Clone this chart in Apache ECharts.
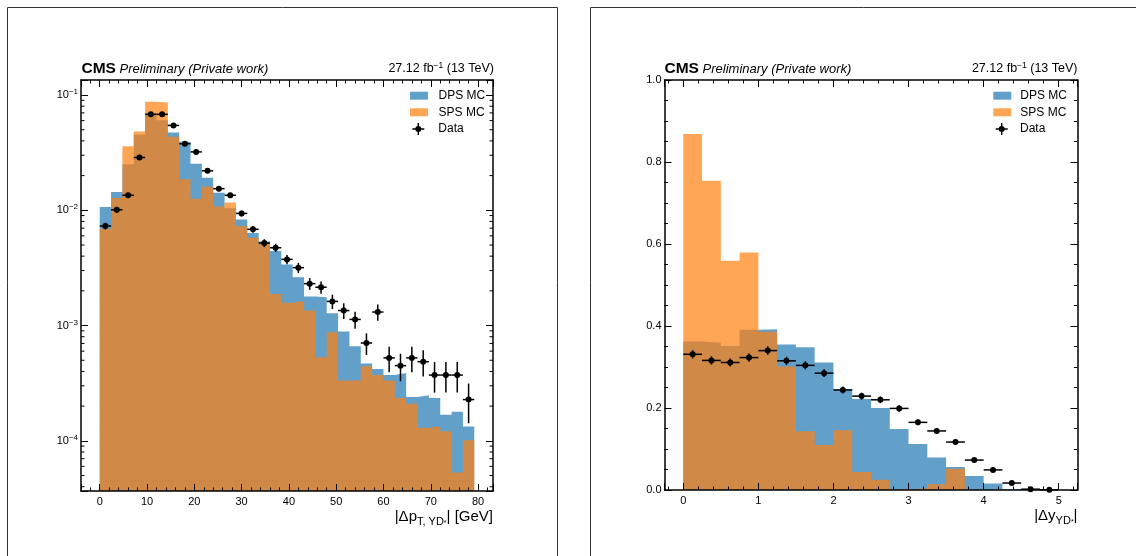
<!DOCTYPE html>
<html>
<head>
<meta charset="utf-8">
<script src="https://cdn.jsdelivr.net/npm/echarts@6/dist/echarts.min.js"></script>
<style>
  html, body { margin: 0; padding: 0; background: #fff; }
  #chart { width: 1136px; height: 556px; }
</style>
</head>
<body>
<div id="chart"></div>
<script>
// |Δp_T| distribution: 33 bins of 2.4 GeV, normalised densities
const ptEdges = [0, 2.4, 4.8, 7.2, 9.6, 12, 14.4, 16.8, 19.2, 21.6, 24, 26.4, 28.8, 31.2, 33.6, 36, 38.4,
  40.8, 43.2, 45.6, 48, 50.4, 52.8, 55.2, 57.6, 60, 62.4, 64.8, 67.2, 69.6, 72, 74.4, 76.8, 79.2];
const ptDPS = [1.07e-2, 1.44e-2, 2.51e-2, 4.52e-2, 6.9e-2, 6.05e-2, 4.73e-2, 3.93e-2, 2.54e-2, 1.92e-2,
  1.42e-2, 1.04e-2, 8.3e-3, 6.35e-3, 5.37e-3, 4.43e-3, 3.39e-3, 2.63e-3, 1.79e-3, 1.76e-3,
  1.28e-3, 8.9e-4, 6.6e-4, 4.68e-4, 4.2e-4, 3.72e-4, 3.87e-4, 2.4e-4, 2.49e-4, 2.35e-4,
  1.68e-4, 1.79e-4, 1.33e-4];
const ptSPS = [6.9e-3, 1.28e-2, 3.6e-2, 4.83e-2, 8.74e-2, 8.63e-2, 4.35e-2, 1.86e-2, 1.26e-2, 1.6e-2,
  1.08e-2, 1.17e-2, 7.3e-3, 5.78e-3, 5.13e-3, 1.88e-3, 1.58e-3, 1.63e-3, 1.35e-3, 5.3e-4,
  8.75e-4, 3.33e-4, 3.33e-4, 4.43e-4, 3.72e-4, 3.33e-4, 2.35e-4, 2.1e-4, 1.3e-4, 1.34e-4,
  1.21e-4, 5.3e-5, 1.01e-4];
const ptData = [7.3e-3, 1.01e-2, 1.35e-2, 2.87e-2, 6.8e-2, 6.8e-2, 5.45e-2, 3.78e-2, 3.21e-2, 2.2e-2,
  1.54e-2, 1.35e-2, 9.4e-3, 6.84e-3, 5.2e-3, 4.73e-3, 3.75e-3, 3.18e-3, 2.31e-3, 2.15e-3,
  1.62e-3, 1.35e-3, 1.13e-3, 7.06e-4, 1.31e-3, 5.24e-4, 4.49e-4, 5.24e-4, 4.86e-4, 3.72e-4,
  3.72e-4, 3.72e-4, 2.28e-4];
const ptDataErr = [4.9e-4, 5.7e-4, 6.6e-4, 9.7e-4, 1.5e-3, 1.5e-3, 1.3e-3, 1.1e-3, 1.0e-3, 8.5e-4,
  7.1e-4, 6.6e-4, 5.5e-4, 4.7e-4, 4.1e-4, 3.9e-4, 3.5e-4, 3.2e-4, 2.7e-4, 2.6e-4,
  2.3e-4, 2.1e-4, 1.9e-4, 1.5e-4, 2.1e-4, 1.3e-4, 1.2e-4, 1.3e-4, 1.25e-4, 1.1e-4,
  1.1e-4, 1.1e-4, 8.6e-5];

// |Δy| distribution: 20 bins of 0.25
const dyEdges = [0, 0.25, 0.5, 0.75, 1, 1.25, 1.5, 1.75, 2, 2.25, 2.5, 2.75, 3, 3.25, 3.5, 3.75, 4, 4.25, 4.5, 4.75, 5];
const dyDPS = [0.362, 0.359, 0.351, 0.391, 0.392, 0.355, 0.348, 0.311, 0.246, 0.222,
  0.200, 0.149, 0.112, 0.079, 0.056, 0.034, 0.016, 0.002, 0, 0];
const dySPS = [0.868, 0.754, 0.559, 0.579, 0.386, 0.301, 0.143, 0.110, 0.146, 0.044,
  0.025, 0.001, 0.004, 0.014, 0.052, 0, 0, 0, 0, 0];
const dyData = [0.331, 0.316, 0.311, 0.323, 0.340, 0.315, 0.304, 0.285, 0.244, 0.229,
  0.220, 0.199, 0.165, 0.144, 0.117, 0.073, 0.049, 0.017, 0.002, 0.0006];
const dyDataErr = [0.010, 0.010, 0.010, 0.010, 0.010, 0.010, 0.0098, 0.0095, 0.0087, 0.0085,
  0.0083, 0.0079, 0.0072, 0.0067, 0.006, 0.0048, 0.0039, 0.0023, 0.0008, 0.0004];

// axis ranges
const ptXRange = [-3.96, 83.16];
const ptYRange = [3.67e-5, 0.135];
const dyXRange = [-0.25, 5.25];
const dyYRange = [0, 1.0];
const logMantissas = [2, 3, 4, 5, 6, 7, 8, 9];
const logDecades = [-5, -4, -3, -2, -1];

// header texts
const cmsLabel = 'CMS';
const cmsExtra = 'Preliminary (Private work)';
const lumiMain = '27.12 fb';
const lumiSup = '\u22121';
const lumiTail = ' (13 TeV)';
const seriesNames = ['DPS MC', 'SPS MC', 'Data'];

const DPS_COLOR = 'rgba(31,119,180,0.7)';
const SPS_COLOR = 'rgba(255,127,14,0.7)';
const FONT = '"Liberation Sans", Arial, Helvetica, sans-serif';

function stepPoints(edges, vals) {
  const pts = vals.map((v, i) => [edges[i], v]);
  pts.push([edges[edges.length - 1], vals[vals.length - 1]]);
  return pts;
}

function histSeries(name, color, edges, vals, xi, yi) {
  return {
    type: 'line', name, xAxisIndex: xi, yAxisIndex: yi,
    data: stepPoints(edges, vals), step: 'end',
    symbol: 'none', showSymbol: false, silent: true,
    color, itemStyle: { color },
    lineStyle: { width: 0, opacity: 0 },
    areaStyle: { color, opacity: 1, origin: 'start' },
    z: 2
  };
}

function errorbarItem(params, api) {
  const lo = api.value(0), hi = api.value(1), v = api.value(2), e = api.value(3);
  const xc = (lo + hi) / 2;
  const pl = api.coord([lo, v]), pr = api.coord([hi, v]);
  const pt = api.coord([xc, v + e]), pb = api.coord([xc, v - e]);
  const pc = api.coord([xc, v]);
  const ls = { stroke: '#000', lineWidth: 1.5 };
  return {
    type: 'group',
    children: [
      { type: 'line', shape: { x1: pl[0], y1: pl[1], x2: pr[0], y2: pr[1] }, style: ls },
      { type: 'line', shape: { x1: pt[0], y1: pt[1], x2: pb[0], y2: pb[1] }, style: ls },
      { type: 'circle', shape: { cx: pc[0], cy: pc[1], r: 3 }, style: { fill: '#000' } }
    ]
  };
}

function dataSeries(edges, vals, errs, xi, yi) {
  return {
    type: 'custom', name: 'Data', xAxisIndex: xi, yAxisIndex: yi,
    data: vals.map((v, i) => [edges[i], edges[i + 1], v, errs[i]]),
    encode: { x: [0, 1], y: 2 },
    renderItem: errorbarItem,
    itemStyle: { color: '#000' },
    silent: true, z: 5
  };
}

// minor ticks of the logarithmic axis (2..9 x 10^n), on both vertical edges
const logMinor = [];
logDecades.forEach(d => logMantissas.forEach(m => {
  const v = m * Math.pow(10, d);
  if (v > ptYRange[0] && v < ptYRange[1]) logMinor.push([ptXRange[0], v]);
}));
const logMinorSeries = {
  type: 'custom', xAxisIndex: 0, yAxisIndex: 0, silent: true, z: 20,
  data: logMinor, encode: { x: 0, y: 1 },
  renderItem(params, api) {
    const v = api.value(1);
    const a = api.coord([ptXRange[0], v]);
    const b = api.coord([ptXRange[1], v]);
    const st = { stroke: '#000', lineWidth: 1 };
    return {
      type: 'group', children: [
        { type: 'line', shape: { x1: a[0], y1: a[1], x2: a[0] + 3.5, y2: a[1] }, style: st },
        { type: 'line', shape: { x1: b[0], y1: b[1], x2: b[0] - 3.5, y2: b[1] }, style: st }
      ]
    };
  }
};

const axisLine = { show: true, onZero: false, lineStyle: { color: '#000', width: 1.5 } };
const majorTick = { show: true, inside: true, length: 7, lineStyle: { color: '#000', width: 1 } };
const minorTick = n => ({ show: true, splitNumber: n, length: 3.5, lineStyle: { color: '#000', width: 1 } });
const noSplit = { show: false };

function xAxes(gridIndex, range, splitNumber, minorN, title) {
  const base = {
    type: 'value', gridIndex, min: range[0], max: range[1], splitNumber,
    axisLine, axisTick: majorTick, minorTick: minorTick(minorN),
    splitLine: noSplit, z: 10
  };
  return [
    Object.assign({}, base, {
      position: 'bottom',
      axisLabel: { show: true, margin: 5, fontSize: 11, color: '#000', fontFamily: FONT,
        showMinLabel: false, showMaxLabel: false },
      name: title, nameLocation: 'end', nameGap: 0,
      nameTextStyle: {
        align: 'right', verticalAlign: 'top', padding: [16, 0, 0, 0], color: '#000', fontFamily: FONT,
        rich: {
          n: { fontSize: 15, lineHeight: 20, color: '#000', fontFamily: FONT },
          sb: { fontSize: 11, lineHeight: 12, verticalAlign: 'bottom', color: '#000', fontFamily: FONT },
          sp: { fontSize: 7, lineHeight: 16, verticalAlign: 'bottom', color: '#000', fontFamily: FONT }
        }
      }
    }),
    Object.assign({}, base, { position: 'top', axisLabel: { show: false } })
  ];
}

const logLabel = v => {
  const e = Math.log10(v);
  if (Math.abs(e - Math.round(e)) > 1e-6) return '';
  return '{b|10}{s|' + (Math.round(e) < 0 ? '\u2212' : '') + Math.abs(Math.round(e)) + '}';
};

const ptYAxisBase = {
  type: 'log', logBase: 10, gridIndex: 0, min: ptYRange[0], max: ptYRange[1],
  axisLine, axisTick: majorTick, splitLine: noSplit, z: 10
};
const dyYAxisBase = {
  type: 'value', gridIndex: 1, min: dyYRange[0], max: dyYRange[1], interval: 0.2,
  axisLine, axisTick: majorTick, minorTick: minorTick(4), splitLine: noSplit, z: 10
};

const ptTitle = '{n|\u007C\u0394p}{sb|T, \u03A5D}{sp|*}{n|\u007C [GeV]}';
const dyTitle = '{n|\u007C\u0394y}{sb|\u03A5D}{sp|*}{n|\u007C}';

const DATA_ICON = 'path://M5.3,0H6.7V12H5.3Z M0,5.3H12V6.7H0Z M9,6A3,3,0,1,1,3,6A3,3,0,1,1,9,6Z';

function legends(left, dataLeft, gapRect, gapData) {
  const ts = pad => ({ fontSize: 12, lineHeight: 16.6, color: '#000', fontFamily: FONT, padding: [0, 0, 0, pad] });
  return [
    {
      data: [
        { name: seriesNames[0], icon: 'rect', itemStyle: { color: DPS_COLOR } },
        { name: seriesNames[1], icon: 'rect', itemStyle: { color: SPS_COLOR } }
      ],
      left, top: 87.4, orient: 'vertical', itemWidth: 18, itemHeight: 8, itemGap: 0, padding: 0,
      selectedMode: false, textStyle: ts(gapRect)
    },
    {
      data: [{ name: seriesNames[2], icon: DATA_ICON, itemStyle: { color: '#000' } }],
      left: dataLeft, top: 120.7, orient: 'vertical', itemWidth: 12, itemHeight: 12, itemGap: 0, padding: 0,
      selectedMode: false, textStyle: ts(gapData)
    }
  ];
}

function header(axLeft, axRight) {
  return [
    {
      type: 'text', x: axLeft, y: 69, silent: true,
      style: {
        text: '{c|' + cmsLabel + '}{p| ' + cmsExtra + '}',
        align: 'left', verticalAlign: 'middle',
        rich: {
          c: { fontSize: 15.5, fontWeight: 'bold', fontFamily: FONT, fill: '#000', color: '#000' },
          p: { fontSize: 13, fontStyle: 'italic', fontFamily: FONT, fill: '#000', color: '#000' }
        }
      }
    },
    {
      type: 'text', x: axRight, y: 69, silent: true,
      style: {
        text: '{a|' + lumiMain + '}{s|' + lumiSup + '}{a|' + lumiTail + '}',
        align: 'right', verticalAlign: 'middle',
        rich: {
          a: { fontSize: 12.5, lineHeight: 16, fontFamily: FONT, fill: '#000', color: '#000' },
          s: { fontSize: 8.5, lineHeight: 9, verticalAlign: 'top', fontFamily: FONT, fill: '#000', color: '#000' }
        }
      }
    }
  ];
}

const chart = echarts.init(document.getElementById('chart'), null, { renderer: 'canvas' });

const option = {
  animation: false,
  backgroundColor: '#fff',
  textStyle: { fontFamily: FONT },
  grid: [
    { left: 81, top: 80, width: 412, height: 411, containLabel: false },
    { left: 664.5, top: 80, width: 413, height: 410, containLabel: false }
  ],
  xAxis: [
    ...xAxes(0, ptXRange, 9, 5, ptTitle),
    ...xAxes(1, dyXRange, 5, 5, dyTitle)
  ],
  yAxis: [
    Object.assign({}, ptYAxisBase, {
      position: 'left',
      axisLabel: {
        show: true, margin: 3, color: '#000', fontFamily: FONT, formatter: logLabel,
        rich: {
          b: { fontSize: 11, lineHeight: 14, color: '#000', fontFamily: FONT },
          s: { fontSize: 8, lineHeight: 9, verticalAlign: 'top', color: '#000', fontFamily: FONT }
        }
      }
    }),
    Object.assign({}, ptYAxisBase, { position: 'right', axisLabel: { show: false } }),
    Object.assign({}, dyYAxisBase, {
      position: 'left',
      axisLabel: { show: true, margin: 3, fontSize: 11, color: '#000', fontFamily: FONT,
        formatter: v => v.toFixed(1) }
    }),
    Object.assign({}, dyYAxisBase, { position: 'right', axisLabel: { show: false } })
  ],
  legend: [
    ...legends(410, 412.3, 5.6, 9),
    ...legends(993.3, 995.7, 4, 7.3)
  ],
  graphic: [
    { type: 'rect', silent: true, z: -10, shape: { x: 7.5, y: 7.5, width: 550, height: 600 },
      style: { fill: 'none', stroke: '#333', lineWidth: 1 } },
    { type: 'rect', silent: true, z: -10, shape: { x: 590.5, y: 7.5, width: 600, height: 600 },
      style: { fill: 'none', stroke: '#333', lineWidth: 1 } },
    ...header(81.5, 494),
    ...header(664.5, 1077.5)
  ],
  series: [
    histSeries(seriesNames[0], DPS_COLOR, ptEdges, ptDPS, 0, 0),
    histSeries(seriesNames[1], SPS_COLOR, ptEdges, ptSPS, 0, 0),
    dataSeries(ptEdges, ptData, ptDataErr, 0, 0),
    logMinorSeries,
    histSeries(seriesNames[0], DPS_COLOR, dyEdges, dyDPS, 2, 2),
    histSeries(seriesNames[1], SPS_COLOR, dyEdges, dySPS, 2, 2),
    dataSeries(dyEdges, dyData, dyDataErr, 2, 2)
  ]
};

chart.setOption(option);
</script>
</body>
</html>
